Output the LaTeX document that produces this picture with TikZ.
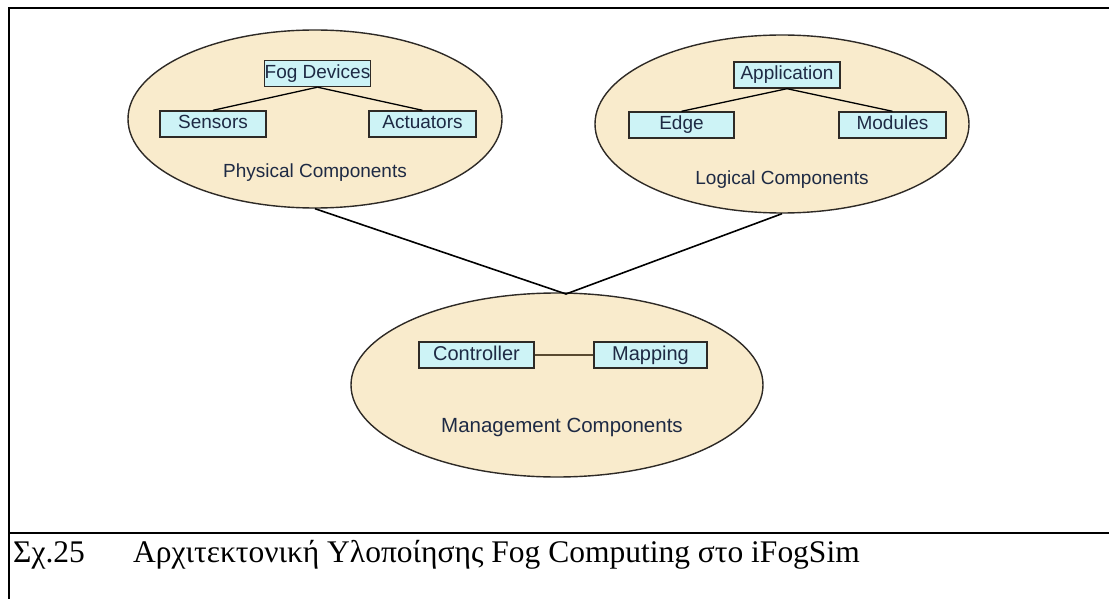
\documentclass[tikz,border=0pt]{standalone}
\usepackage{fontspec}
\usetikzlibrary{shapes.geometric}
\newfontfamily\arialf{Liberation Sans}
\newfontfamily\timesf{Liberation Serif}
\definecolor{ellfill}{HTML}{F9EBCC}
\definecolor{boxfill}{HTML}{CDF3F6}
\definecolor{txtc}{HTML}{1E2A44}
\definecolor{edgec}{HTML}{2E2A26}
\definecolor{brownl}{HTML}{5A4A30}
\begin{document}
\begin{tikzpicture}[x=1pt,y=-1pt,
  group/.style={ellipse, draw=edgec, line width=1.4pt, fill=ellfill, inner sep=0pt},
  comp/.style={draw=edgec, line width=1.4pt, fill=boxfill, inner sep=0pt,
    text height=14pt, text depth=4pt, minimum height=26pt, text=txtc,
    font=\arialf\fontsize{19}{22}\selectfont},
  lbl/.style={text=txtc, inner sep=0pt, font=\arialf\fontsize{19}{22}\selectfont},
  link/.style={draw=black, line width=1.6pt},
  frame/.style={draw=black, line width=2pt}]
\useasboundingbox (0,0) rectangle (1109,599);
\fill[white] (0,0) rectangle (1109,599);
% frame
\draw[frame] (8,8) -- (1109,8);
\draw[frame] (8.5,8) -- (8.5,599);
\draw[frame] (8,533) -- (1109,533);
% groups
\node[group, minimum width=374pt, minimum height=178pt] (phys) at (315,119) {};
\node[group, minimum width=374pt, minimum height=178pt] (logi) at (782,124) {};
\node[group, minimum width=412pt, minimum height=184pt] (mgmt) at (557,385) {};
\coordinate (meet) at (566,294);
\draw[link] (phys.south) -- (meet) -- (logi.south);
% physical
\node[comp, minimum width=105pt] (fog) at (317.5,73.5) {Fog Devices};
\node[comp, minimum width=106pt] (sens) at (213,124) {Sensors};
\node[comp, minimum width=107pt] (act) at (422.5,124) {Actuators};
\draw[link, line width=1.3pt] (fog.south) -- (sens.north);
\draw[link, line width=1.3pt] (fog.south) -- (act.north);
\node[lbl] (physl) at (315,173) {Physical Components};
% logical
\node[comp, minimum width=106pt] (app) at (787,75) {Application};
\node[comp, minimum width=105pt] (edge) at (681.5,125) {Edge};
\node[comp, minimum width=107pt] (mod) at (892.5,125) {Modules};
\draw[link, line width=1.3pt] (app.south) -- (edge.north);
\draw[link, line width=1.3pt] (app.south) -- (mod.north);
\node[lbl] (logil) at (782,180) {Logical Components};
% management
\node[comp, minimum width=115pt, font=\arialf\fontsize{20}{22}\selectfont] (ctrl) at (476.5,355) {Controller};
\node[comp, minimum width=113pt, font=\arialf\fontsize{20}{22}\selectfont] (mapp) at (650.5,355) {Mapping};
\draw[draw=brownl, line width=1.6pt] (ctrl.east) -- (mapp.west);
\node[lbl, font=\arialf\fontsize{20.5}{22}\selectfont] (mgmtl) at (562,427) {Management Components};
% caption
\node[anchor=base west, inner sep=0pt, font=\timesf\fontsize{31.5}{34}\selectfont] (capnum) at (13,562) {Σχ.25};
\node[anchor=base west, inner sep=0pt, font=\timesf\fontsize{31.5}{34}\selectfont] (captxt) at (133,562) {Αρχιτεκτονική Υλοποίησης Fog Computing στο iFogSim};
\end{tikzpicture}
\end{document}
